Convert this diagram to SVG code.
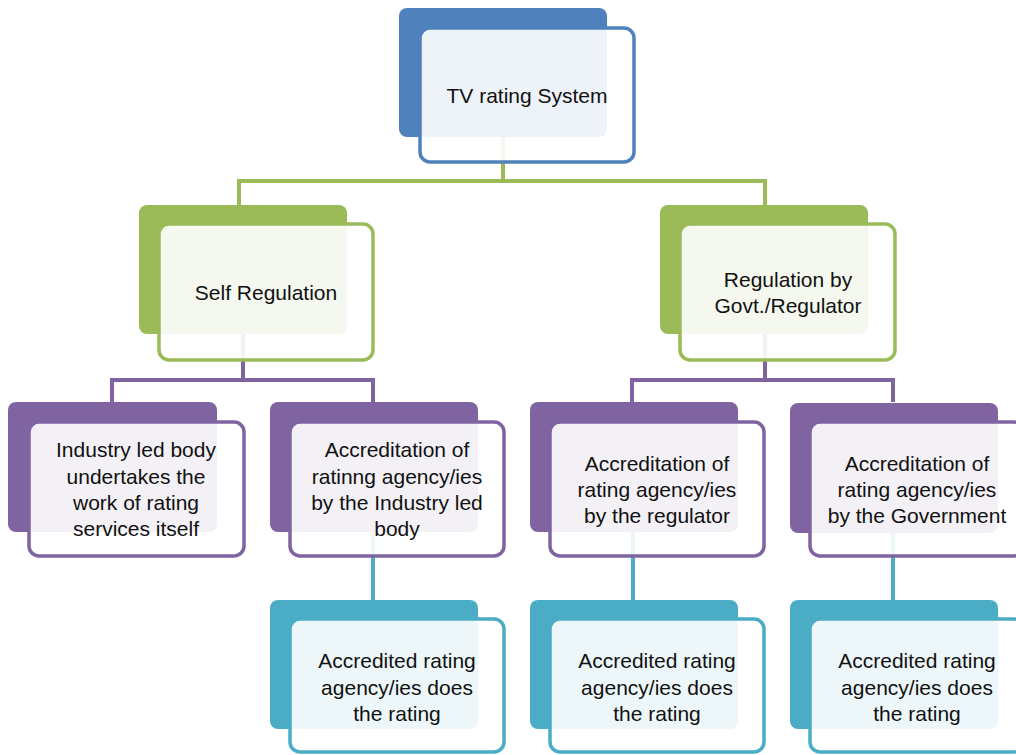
<svg xmlns="http://www.w3.org/2000/svg" width="1016" height="755" viewBox="0 0 1016 755">
  <style>
    .bk { stroke: none; }
    .fr { fill: #ffffff; fill-opacity: 0.9; stroke-width: 3.5; }
    .ln { fill: none; stroke-width: 4; }
    .t { font-family: "Liberation Sans", Arial, sans-serif; font-size: 21px; fill: #111111; text-anchor: middle; }
    .blue .bk { fill: #4F81BD; } .blue .fr { stroke: #4F81BD; }
    .green .bk { fill: #9BBB59; } .green .fr { stroke: #9BBB59; }
    .purple .bk { fill: #8064A2; } .purple .fr { stroke: #8064A2; }
    .teal .bk { fill: #4BACC6; } .teal .fr { stroke: #4BACC6; }
  </style>
  <rect width="1016" height="755" fill="#ffffff"/>

  <!-- connectors -->
  <g id="connectors">
    <path class="ln" stroke="#9BBB59" d="M503 137 V181 M239 181 H765 M239 179 V205 M765 179 V205"/>
    <path class="ln" stroke="#8064A2" d="M243 334 V380 M110 380 H375 M112 378 V402 M373 378 V402"/>
    <path class="ln" stroke="#8064A2" d="M765 334 V380 M630 380 H895 M632 378 V402 M893 378 V402"/>
    <path class="ln" stroke="#4BACC6" d="M373 532 V600 M633 532 V600 M893 532 V600"/>
  </g>

  <g id="tv-rating-system" class="blue">
    <rect class="bk" x="399" y="8" width="208" height="129" rx="8"/>
    <rect class="fr" x="420" y="28" width="214" height="134" rx="10"/>
    <text class="t" x="527" y="103">TV rating System</text>
  </g>

  <g id="self-regulation" class="green">
    <rect class="bk" x="139" y="205" width="208" height="129" rx="8"/>
    <rect class="fr" x="159" y="224" width="214" height="136" rx="10"/>
    <text class="t" x="266" y="300">Self Regulation</text>
  </g>

  <g id="govt-regulation" class="green">
    <rect class="bk" x="660" y="205" width="208" height="129" rx="8"/>
    <rect class="fr" x="680" y="224" width="215" height="136" rx="10"/>
    <text class="t" x="788" y="287">Regulation by</text>
    <text class="t" x="788" y="313">Govt./Regulator</text>
  </g>

  <g id="industry-body" class="purple">
    <rect class="bk" x="8" y="402" width="209" height="130" rx="8"/>
    <rect class="fr" x="29" y="422" width="215" height="134" rx="10"/>
    <text class="t" x="136" y="457">Industry led body</text>
    <text class="t" x="136" y="484">undertakes the</text>
    <text class="t" x="136" y="510">work of rating</text>
    <text class="t" x="136" y="536">services itself</text>
  </g>

  <g id="accreditation-industry" class="purple">
    <rect class="bk" x="270" y="402" width="208" height="130" rx="8"/>
    <rect class="fr" x="290" y="422" width="214" height="134" rx="10"/>
    <text class="t" x="397" y="457">Accreditation of</text>
    <text class="t" x="397" y="484">ratinng agency/ies</text>
    <text class="t" x="397" y="510">by the Industry led</text>
    <text class="t" x="397" y="536">body</text>
  </g>

  <g id="accreditation-regulator" class="purple">
    <rect class="bk" x="530" y="402" width="208" height="130" rx="8"/>
    <rect class="fr" x="550" y="422" width="214" height="134" rx="10"/>
    <text class="t" x="657" y="471">Accreditation of</text>
    <text class="t" x="657" y="497">rating agency/ies</text>
    <text class="t" x="657" y="523">by the regulator</text>
  </g>

  <g id="accreditation-government" class="purple">
    <rect class="bk" x="790" y="403" width="208" height="130" rx="8"/>
    <rect class="fr" x="810" y="422" width="214" height="134" rx="10"/>
    <text class="t" x="917" y="471">Accreditation of</text>
    <text class="t" x="917" y="497">rating agency/ies</text>
    <text class="t" x="917" y="523">by the Government</text>
  </g>

  <g id="rating-1" class="teal">
    <rect class="bk" x="270" y="600" width="208" height="129" rx="8"/>
    <rect class="fr" x="290" y="619" width="214" height="133" rx="10"/>
    <text class="t" x="397" y="668">Accredited rating</text>
    <text class="t" x="397" y="695">agency/ies does</text>
    <text class="t" x="397" y="721">the rating</text>
  </g>

  <g id="rating-2" class="teal">
    <rect class="bk" x="530" y="600" width="208" height="129" rx="8"/>
    <rect class="fr" x="550" y="619" width="214" height="133" rx="10"/>
    <text class="t" x="657" y="668">Accredited rating</text>
    <text class="t" x="657" y="695">agency/ies does</text>
    <text class="t" x="657" y="721">the rating</text>
  </g>

  <g id="rating-3" class="teal">
    <rect class="bk" x="790" y="600" width="208" height="129" rx="8"/>
    <rect class="fr" x="810" y="619" width="214" height="133" rx="10"/>
    <text class="t" x="917" y="668">Accredited rating</text>
    <text class="t" x="917" y="695">agency/ies does</text>
    <text class="t" x="917" y="721">the rating</text>
  </g>
</svg>
